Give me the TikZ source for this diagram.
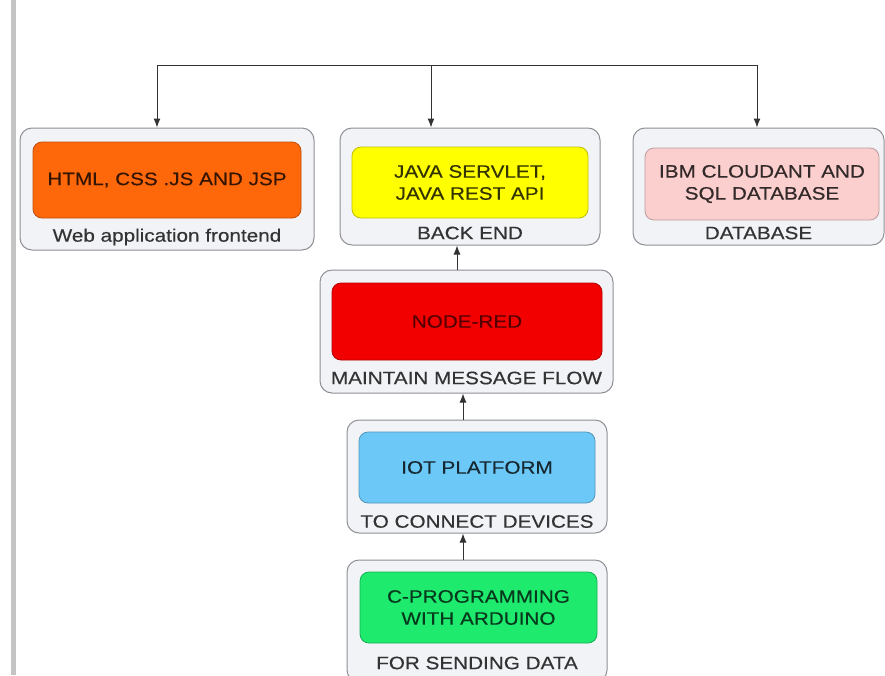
\documentclass[tikz,border=0pt]{standalone}
\usepackage{fontspec}
\setmainfont{Liberation Sans}[FakeStretch=1.15,FakeBold=0.35]
\usetikzlibrary{arrows.meta}
\definecolor{boxgray}{HTML}{8E9096}
\definecolor{boxfill}{HTML}{F1F3F7}
\definecolor{linegray}{HTML}{333333}
\definecolor{labelgray}{HTML}{333333}
\definecolor{leftbar}{HTML}{C4C4C4}
\definecolor{corange}{HTML}{FF680A}
\definecolor{cyellow}{HTML}{FFFF00}
\definecolor{cpink}{HTML}{FCCFCF}
\definecolor{cred}{HTML}{F20000}
\definecolor{cblue}{HTML}{6CC8F7}
\definecolor{cgreen}{HTML}{1EEA6E}
\begin{document}
\begin{tikzpicture}[x=1pt,y=-1pt,
  outer/.style={draw=boxgray, fill=boxfill, rounded corners=12pt, line width=1pt, inner sep=0pt},
  inner/.style={draw=#1!75!black, fill=#1, rounded corners=9pt, line width=0.8pt, inner sep=0pt, align=center, font=\fontsize{18}{22}\selectfont},
  lbl/.style={font=\fontsize{18}{20}\selectfont, text=labelgray, inner sep=0pt},
  arr/.style={-{Latex[length=9pt,width=7pt]}, line width=1pt, draw=linegray}
]
\clip (0,0) rectangle (885,675);
\fill[white] (0,0) rectangle (885,675);
\fill[leftbar] (10.5,0) rectangle (15.5,675);

% outer boxes
\node[outer, minimum width=294pt, minimum height=122pt] (webo) at (167,189) {};
\node[outer, minimum width=260pt, minimum height=117pt] (backo) at (470,186.5) {};
\node[outer, minimum width=251pt, minimum height=117pt] (dbo) at (758.5,186.5) {};
\node[outer, minimum width=293pt, minimum height=123pt] (nro) at (466.5,331.5) {};
\node[outer, minimum width=260pt, minimum height=113pt] (ioto) at (477,476.5) {};
\node[outer, minimum width=260pt, minimum height=122pt] (co) at (477,621) {};

% inner boxes
\node[inner=corange, text=black!80!corange, minimum width=268pt, minimum height=76pt] (web) at (167,180) {HTML, CSS .JS AND JSP};
\node[inner=cyellow, text=black!80!cyellow, minimum width=236pt, minimum height=71pt] (back) at (470,182.5) {JAVA SERVLET,\\JAVA REST API};
\node[inner=cpink, text=black!80!cpink, minimum width=234pt, minimum height=72pt] (db) at (762,184) {IBM CLOUDANT AND\\SQL DATABASE};
\node[inner=cred, text=black!65!cred, minimum width=270pt, minimum height=77pt] (nr) at (467,321.5) {NODE-RED};
\node[inner=cblue, text=black!80!cblue, minimum width=236pt, minimum height=71pt] (iot) at (477,467.5) {IOT PLATFORM};
\node[inner=cgreen, text=black!75!cgreen, minimum width=237pt, minimum height=71pt] (c) at (478.5,607.5) {C-PROGRAMMING\\WITH ARDUINO};

% labels
\node[lbl] (webl) at (167,237) {Web application frontend};
\node[lbl] (backl) at (470,233) {BACK END};
\node[lbl] (dbl) at (758.5,233) {DATABASE};
\node[lbl] (nrl) at (466.5,378) {MAINTAIN MESSAGE FLOW};
\node[lbl] (iotl) at (477,521.5) {TO CONNECT DEVICES};
\node[lbl] (cl) at (477,663) {FOR SENDING DATA};

% top distribution connectors
\coordinate (jl) at (157,65);
\coordinate (jm) at (431,65);
\coordinate (jr) at (757,65);
\draw[line width=1pt, draw=linegray] (jl) -- (jr);
\draw[arr] (jl) -- (jl |- webo.north);
\draw[arr] (jm) -- (jm |- backo.north);
\draw[arr] (jr) -- (jr |- dbo.north);

% upward connectors
\coordinate (a1) at (457,0);
\coordinate (a2) at (463,0);
\draw[arr] (a1 |- nro.north) -- (a1 |- backo.south);
\draw[arr] (a2 |- ioto.north) -- (a2 |- nro.south);
\draw[arr] (a2 |- co.north) -- (a2 |- ioto.south);
\end{tikzpicture}
\end{document}
